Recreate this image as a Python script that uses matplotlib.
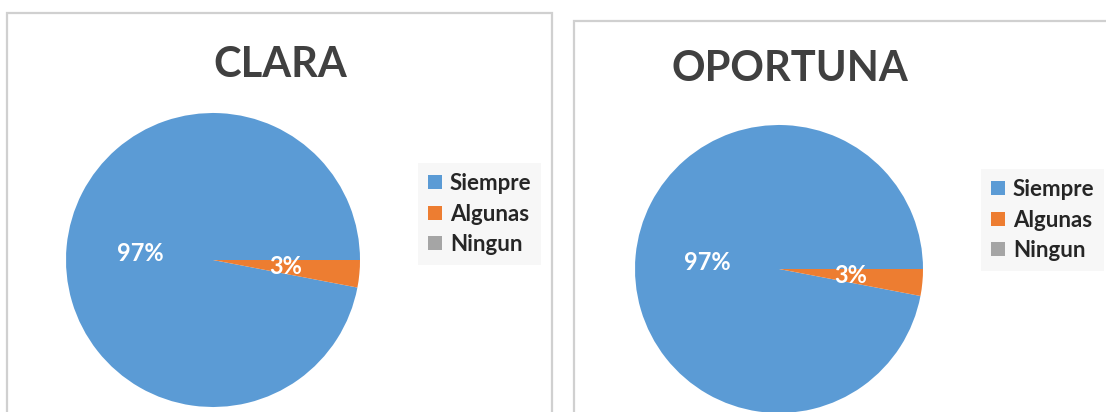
import matplotlib.pyplot as plt
from matplotlib.patches import Rectangle

plt.rcParams['font.family'] = ['Lato', 'DejaVu Sans']

categorias = ['Siempre', 'Algunas', 'Ningun']
clara = [97, 3, 0]
oportuna = [97, 3, 0]
colores = ['#5B9BD5', '#ED7D31', '#A5A5A5']

W, H = 1106, 412
fig = plt.figure(figsize=(W / 100, H / 100), dpi=100)


def px(x, y):
    # pixel (top-left origin) -> figure coords
    return x / W, 1 - y / H


def pct(v):
    return '%d%%' % round(v) if v > 0 else ''


def panel(valores, titulo, box, centro, r, tit_pos, leg_pos):
    # marco gris del grafico
    x0, y0, x1, y1 = box
    fig.patches.append(Rectangle(px(x0, y1), (x1 - x0) / W, (y1 - y0) / H,
                                 transform=fig.transFigure, fill=False,
                                 edgecolor='#d0d0d0', linewidth=1.6))
    fig.text(*px(*tit_pos), titulo, ha='center', va='center',
             fontsize=30, fontweight='bold', color='#404040')

    cx, cy = centro
    ax = fig.add_axes([(cx - r) / W, 1 - (cy + r) / H, 2 * r / W, 2 * r / H])
    wedges, _, autotexts = ax.pie(valores, colors=colores, startangle=0,
                                  autopct=pct, pctdistance=0.5,
                                  textprops=dict(color='white', fontsize=17,
                                                 fontweight='bold'))
    ax.set_xlim(-1, 1)
    ax.set_ylim(-1, 1)
    ax.set_aspect('equal')

    leg = ax.legend(wedges, categorias, loc='upper left',
                    bbox_to_anchor=px(*leg_pos),
                    bbox_transform=fig.transFigure, borderaxespad=0,
                    frameon=True, fancybox=False, facecolor='#f7f7f7',
                    edgecolor='none', framealpha=1, fontsize=16,
                    handlelength=0.63, handleheight=0.6, handletextpad=0.35,
                    labelspacing=0.43, borderpad=0.45)
    for t in leg.get_texts():
        t.set_color('#262626')
        t.set_fontweight('bold')


panel(clara, 'CLARA', (7, 13, 552, 430), (213, 260), 147, (280, 65), (418, 163))
panel(oportuna, 'OPORTUNA', (574, 21, 1120, 430), (779, 269), 144, (790, 69), (981, 169))

fig.savefig('out.png', dpi=100)
